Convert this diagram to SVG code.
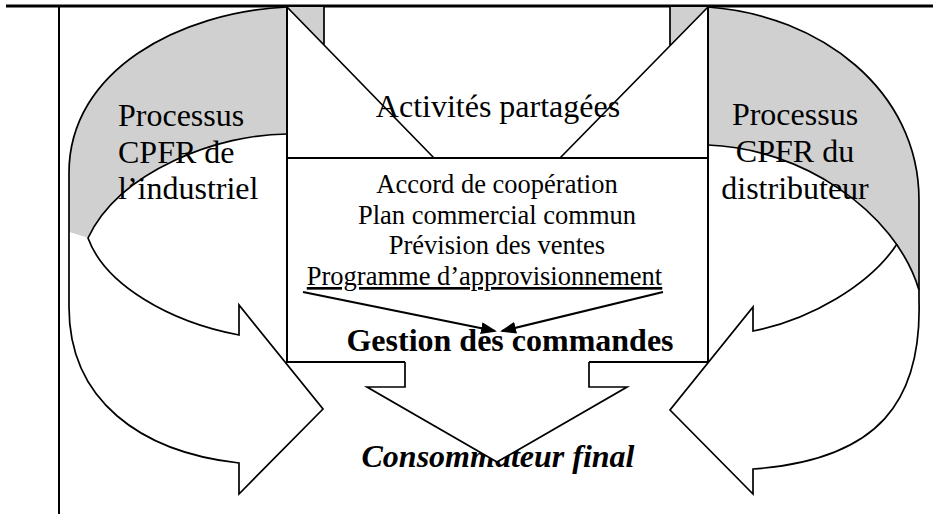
<svg xmlns="http://www.w3.org/2000/svg" width="933" height="514" viewBox="0 0 933 514">
<defs>
<style>
.ln{fill:none;stroke:#000;stroke-width:1.7;stroke-linejoin:miter}
.bd{fill:none;stroke:#000;stroke-width:2}
.gray{fill:#d0d0d0;stroke:none}
.white{fill:#fff;stroke:none}
.t{font-family:"Liberation Serif","Times New Roman",serif;fill:#000}
.big{font-size:32px}
.mid{font-size:26.5px}
.con{fill:none;stroke:#000;stroke-width:2.2}
</style>
<marker id="ah" viewBox="0 0 16 12" refX="14" refY="6" markerWidth="16" markerHeight="12" markerUnits="userSpaceOnUse" orient="auto">
<path d="M0,0 L16,6 L0,12 Z" fill="#000"/>
</marker>
</defs>
<g id="frame">
<path d="M6,6 H933" fill="none" stroke="#000" stroke-width="3"/>
<path d="M59,6 V514" class="bd"/>
</g>
<g id="left-process">
<path class="gray" d="M287,7 C180,12 69,70 69,173 L69,232 L88,238 C120,170 220,134 287,134 Z"/>
<path class="white" d="M88,238 C105,285 170,322 239,335 L239,305 L323,409 L239,494 L239,463 C140,452 69,400 69,307 L69,232 Z"/>
<path class="ln" d="M287,7 C180,12 69,70 69,173 L69,307 C69,400 140,452 239,463 L239,494 L323,409 L239,305 L239,335 C170,322 105,285 88,238 C120,170 220,134 287,134"/>
<text class="t big" x="118" y="126">Processus</text>
<text class="t big" x="118" y="163">CPFR de</text>
<text class="t big" x="118" y="199">l’industriel</text>
</g>
<g id="right-process">
<path class="white" d="M897,244 C870,285 810,320 753,331 L753,307 L670,410 L753,494 L753,469 C880,460 922,400 919,300 L919,290 Z"/>
<path class="gray" d="M708,7 C820,15 919,90 919,200 L919,290 C895,210 800,148 708,145 Z"/>
<path class="ln" d="M708,7 C820,15 919,90 919,200 L919,300 C922,400 880,460 753,469 L753,494 L670,410 L753,307 L753,331 C810,320 870,285 897,244"/>
<path class="ln" d="M708,145 C800,148 895,210 919,290"/>
<text class="t big" x="795" y="125" text-anchor="middle">Processus</text>
<text class="t big" x="795" y="162" text-anchor="middle">CPFR du</text>
<text class="t big" x="795" y="199" text-anchor="middle">distributeur</text>
</g>
<g id="shared-activities">
<polygon class="gray" points="287,7 324,7 324,45.5"/>
<polygon class="gray" points="670,7 708,7 670,45.5"/>
<path class="ln" d="M324,7 V45.5 M670,7 V45.5 M287,7 L434,158 M708,7 L560,158"/>
<text class="t big" x="498" y="117" text-anchor="middle">Activités partagées</text>
</g>
<g id="activities-box">
<path class="bd" d="M287,7 V362 H708 V7 M287,158 H708"/>
<text class="t mid" x="497" y="193" text-anchor="middle">Accord de coopération</text>
<text class="t mid" x="497" y="223.5" text-anchor="middle">Plan commercial commun</text>
<text class="t mid" x="497" y="254" text-anchor="middle">Prévision des ventes</text>
<text class="t mid" x="484.5" y="285" text-anchor="middle" text-decoration="underline">Programme d’approvisionnement</text>
<text class="t big" x="510" y="351" text-anchor="middle" font-weight="bold">Gestion des commandes</text>
</g>
<g id="connectors">
<path class="con" d="M303,292 L495,331" marker-end="url(#ah)"/>
<path class="con" d="M663,292 L502,331" marker-end="url(#ah)"/>
</g>
<g id="consumer">
<text class="t big" x="498" y="467" text-anchor="middle" font-weight="bold" font-style="italic">Consommateur final</text>
</g>
<g id="down-arrow">
<polygon class="white" points="405,360.5 405,387 367,387 497,462 627,387 589,387 589,360.5"/>
<path class="ln" d="M405,362 L405,387 L367,387 L497,462 L627,387 L589,387 L589,362"/>
</g>
</svg>
